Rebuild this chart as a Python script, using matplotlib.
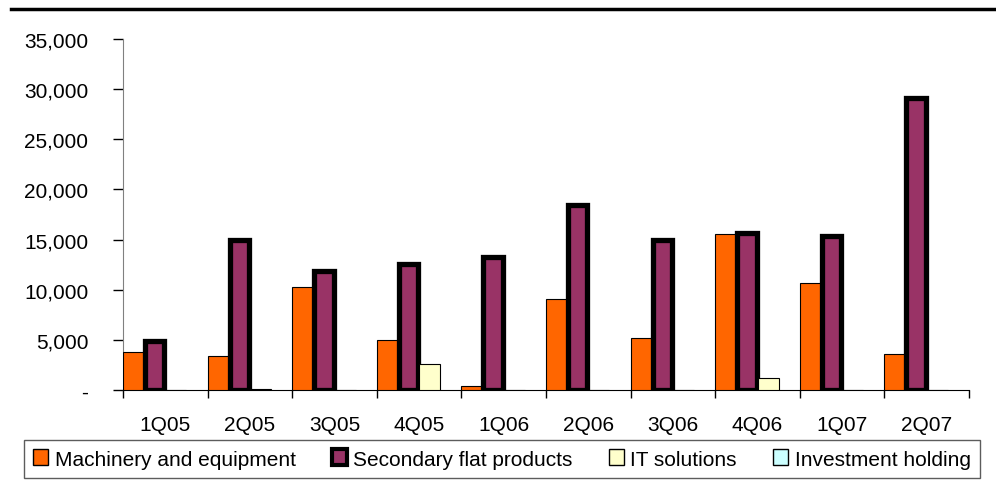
import numpy as np
import matplotlib
matplotlib.use("Agg")
import matplotlib.pyplot as plt
from matplotlib.lines import Line2D
from matplotlib.patches import Patch

quarters = ["1Q05", "2Q05", "3Q05", "4Q05", "1Q06", "2Q06", "3Q06", "4Q06", "1Q07", "2Q07"]
machinery = [3800, 3400, 10300, 4950, 430, 9100, 5150, 15600, 10700, 3550]
secondary = [4900, 15000, 11900, 12600, 13250, 18400, 15000, 15650, 15400, 29100]
it_solutions = [0, 80, 0, 2550, 0, 0, 0, 1150, 0, 0]
investment = [0, 0, 0, 0, 0, 0, 0, 0, 0, 0]

series_names = ["Machinery and equipment", "Secondary flat products", "IT solutions", "Investment holding"]
yticks = [0, 5000, 10000, 15000, 20000, 25000, 30000, 35000]

plt.rcParams['font.family'] = ['Liberation Sans', 'DejaVu Sans']
plt.rcParams['font.size'] = 15

fig = plt.figure(figsize=(9.96, 4.89), dpi=100)
ax = fig.add_axes([123/996, 1-391/489, (969-123)/996, (391-40)/489])

x = np.arange(len(quarters))
w = 0.25
ax.bar(x + 0.5*w, machinery, w, color='#FF6600', edgecolor='black', linewidth=0.8, zorder=3)
ax.bar(x + 1.5*w, secondary, w*0.92, color='#993366', edgecolor='black', linewidth=3.8, zorder=3)
ax.bar(x + 2.5*w, it_solutions, w, color='#FFFFCC', edgecolor='black', linewidth=0.8, zorder=3)
ax.bar(x + 3.5*w, investment, w, color='#CCFFFF', edgecolor='black', linewidth=0.0, zorder=3)

ax.set_xlim(0, len(quarters))
ax.set_ylim(0, 35000)
ax.set_xticks(np.arange(len(quarters)+1))
ax.set_xticklabels([])
ax.set_xticks(x + 0.5, minor=True)
ax.set_xticklabels(quarters, minor=True)
ax.tick_params(axis='x', which='major', direction='out', length=6, width=1, color='black')
ax.tick_params(axis='x', which='minor', length=0, pad=18)
ax.set_yticks(yticks)
ax.set_yticklabels(["-" if v == 0 else f"{v:,}" for v in yticks])
ax.tick_params(axis='y', direction='out', length=7, width=1, color='black', pad=18)

for s in ['top', 'right']:
    ax.spines[s].set_visible(False)
ax.spines['left'].set_color('#808080')
ax.spines['bottom'].set_color('black')

# line across the top of the slide
fig.add_artist(Line2D([11/996, 1.0], [1-10/489, 1-10/489], color='black', linewidth=2.5))

handles = [
    Patch(facecolor='#FF6600', edgecolor='black', linewidth=1.0),
    Patch(facecolor='#993366', edgecolor='black', linewidth=3.0),
    Patch(facecolor='#FFFFCC', edgecolor='black', linewidth=1.0),
    Patch(facecolor='#CCFFFF', edgecolor='black', linewidth=1.0),
]
leg = fig.legend(handles, series_names, ncol=4, loc='center',
                 bbox_to_anchor=(502/996, 1-460/489),
                 frameon=True, fancybox=False, edgecolor='#333333',
                 handlelength=0.72, handleheight=0.77, handletextpad=0.3,
                 columnspacing=1.75, borderaxespad=0, borderpad=0.45, fontsize=15)
leg.get_frame().set_linewidth(1.0)

fig.savefig("out.png", dpi=100)
